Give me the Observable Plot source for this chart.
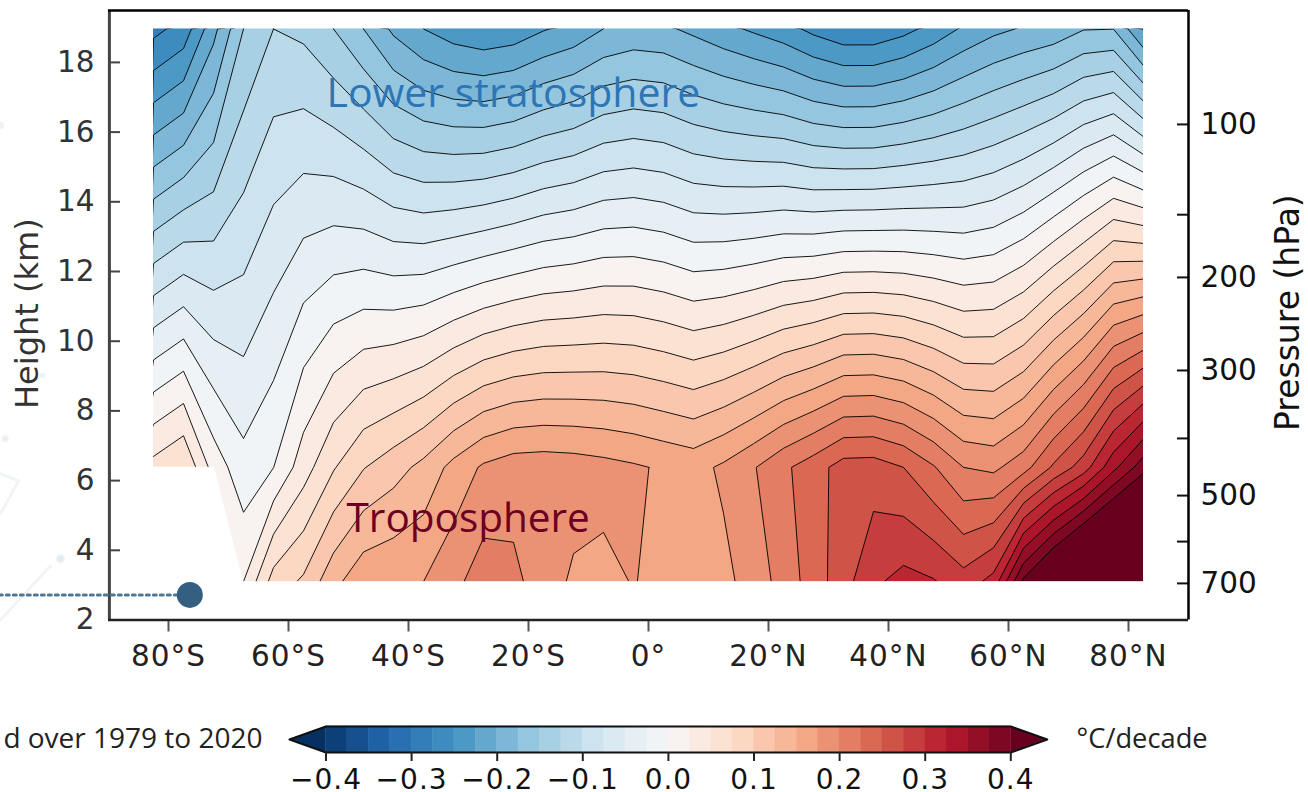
<!DOCTYPE html>
<html>
<head>
<meta charset="utf-8">
<script src="https://cdn.jsdelivr.net/npm/d3@7"></script>
<script src="https://cdn.jsdelivr.net/npm/@observablehq/plot@0.6"></script>
<style>
html,body{margin:0;padding:0;background:#fff;overflow:hidden}
#page{position:relative;width:1308px;height:792px;overflow:hidden}
#page svg{position:absolute;left:0;background:transparent;max-width:none}
#page g[aria-label="x-axis tick label"]{letter-spacing:1px}
</style>
</head>
<body>
<div id="page"></div>
<script>
// Temperature trend (°C/decade) at three heights for every 5° latitude band
const lats = [-82.5,-77.5,-72.5,-67.5,-62.5,-57.5,-52.5,-47.5,-42.5,-37.5,-32.5,-27.5,-22.5,-17.5,-12.5,-7.5,-2.5,2.5,7.5,12.5,17.5,22.5,27.5,32.5,37.5,42.5,47.5,52.5,57.5,62.5,67.5,72.5,77.5,82.5];
const rowHeights = [3.1, 6.38, 18.96];
const trendLow = [null,null,null,.025,.0856,.1042,.1425,.168,.172,.175,.193,.213,.206,.188,.1708,.1684,.1762,.167,.163,.1683,.1856,.21,.237,.265,.2955,.3083,.302,.2853,.309,.406,.462,.516,.5526,.58];
const trendMid = [.0585,.0745,.0149,-.0162,-.0003,.0385,.0728,.0987,.1146,.1323,.158,.1789,.1886,.19,.188,.1837,.1784,.1718,.166,.1795,.198,.22,.2386,.2609,.2621,.25,.2272,.2,.1945,.215,.254,.2876,.343,.39];
const trendTop = [-.2824,-.2652,-.2077,-.15,-.125,-.1308,-.15,-.175,-.205,-.225,-.2385,-.2453,-.2406,-.2269,-.217,-.2,-.1927,-.1951,-.206,-.2179,-.2289,-.24,-.2568,-.2693,-.2693,-.2582,-.2412,-.2212,-.2064,-.1974,-.1906,-.1762,-.1752,-.2267];

const levels = d3.range(0,33).map(i => +(-0.4 + i*0.025).toFixed(3));
const rdBuStops = ["#053061","#2166ac","#4393c3","#92c5de","#d1e5f0","#f7f7f7","#fddbc7","#f4a582","#d6604d","#b2182b","#67001f"];
const rdBu = d3.piecewise(d3.interpolateRgb, rdBuStops);
const levelColors = d3.range(0,34).map(i => rdBu(i/33));

const latTicks = [-80,-60,-40,-20,0,20,40,60,80];
const heightTicks = [2,4,6,8,10,12,14,16,18];
const pressureHeights = [16.22,13.63,11.83,9.16,7.21,5.57,4.25,3.05];
const pressureLabels = ["100","","200","300","","500","","700"];
const barTicks = [-0.4,-0.3,-0.2,-0.1,0,0.1,0.2,0.3,0.4];

// Region with no data
const maskLats = [-82.6,-72.35,-67.5];
const maskTops = [6.38,6.38,3.1];

// Faint decoration and the pointer
const nodeLat = [-98,-98,-107.2,-107.2,-101,-108];
const nodeKm  = [3.76,3.76,7.2,7.2,9.02,16.19];
const nodeR   = [15,7,11,4,6,10];
const nodeFill= ["#f1f4f7","#e4ebf0","#f6f8f9","#e8ecf0","#eef2f5","#eef2f6"];
const strandLat = [-108,-99.7];
const strandKm = [2.0,3.55];
const kiteLat = [-108,-105,-108];
const kiteKm = [6.20,5.99,5.05];
const pointerLat = [-108.2,-76.5];
const pointerKm = [2.72,2.72];

const kmTop = 2 + 609.5/34.85;

// Contour rings of the three rows: straight segments inside every cell of the table
const table = [...trendLow.map((v,i) => v == null ? trendMid[i] : v), ...trendMid, ...trendTop];
const bandFeatures = d3.contours().size([lats.length, rowHeights.length]).thresholds(levels)(table);
const rowToKm = Y => {
  const r = Y - 0.5;
  if (r <= 0) return rowHeights[0] + r*0.2;
  if (r <= 1) return rowHeights[0] + r*(rowHeights[1]-rowHeights[0]);
  if (r <= 2) return rowHeights[1] + (r-1)*(rowHeights[2]-rowHeights[1]);
  return rowHeights[2] + (r-2)*0.2;
};
const outerRings = [], allRings = [];
let ringId = 0;
for (const f of bandFeatures) {
  for (const polygon of f.coordinates) {
    polygon.forEach((ring, k) => {
      ringId++;
      for (const [X,Y] of ring) {
        const p = {lat: lats[0] + (X-0.5)*5, km: rowToKm(Y), level: f.value, ring: ringId};
        allRings.push(p);
        if (k === 0) outerRings.push(p);
      }
    });
  }
}

const colorScale = {type:"threshold", domain:levels, range:levelColors};
const white = "#ffffff";
const strip = (x1,x2,y1,y2) => Plot.rect([0],{x1:[x1],x2:[x2],y1:[y1],y2:[y2],fill:white});
const hemi = d => d === 0 ? "0°" : `${Math.abs(d)}°${d<0?"S":"N"}`;

const main = Plot.plot({
  width:1308, height:792,
  marginLeft:108, marginRight:120, marginTop:10, marginBottom:172.5,
  x:{domain:[-90,90]},
  y:{domain:[2,kmTop]},
  color:colorScale,
  style:{fontFamily:"'DejaVu Sans'",background:"transparent"},
  marks:[
    // faint background
    Plot.line(strandLat.map((x,i)=>({x,y:strandKm[i]})),{x:"x",y:"y",stroke:"#f1f4f7",strokeWidth:3}),
    Plot.line(kiteLat.map((x,i)=>({x,y:kiteKm[i]})),{x:"x",y:"y",stroke:"#f1f4f7",strokeWidth:3}),
    Plot.dot(nodeLat.map((x,i)=>({x,y:nodeKm[i],r:nodeR[i],f:nodeFill[i]})),{x:"x",y:"y",r:"r",fill:"f",stroke:null}),
    // filled bands and contour lines
    Plot.line(outerRings,{x:"lat",y:"km",z:"ring",fill:"level",stroke:"none"}),
    Plot.line(allRings,{x:"lat",y:"km",z:"ring",stroke:"#000",strokeWidth:0.9,fill:"none"}),
    // everything outside the field stays white
    strip(lats[0]-4, lats[0], rowHeights[0]-0.3, rowHeights[2]+0.3),
    strip(lats[33], lats[33]+4, rowHeights[0]-0.3, rowHeights[2]+0.3),
    strip(lats[0]-4, lats[33]+4, rowHeights[2], rowHeights[2]+0.3),
    strip(lats[0]-4, lats[33]+4, rowHeights[0]-0.3, rowHeights[0]),
    Plot.areaY(maskLats.map((x,i)=>({x,y:maskTops[i]})),{x:"x",y1:rowHeights[0]-0.02,y2:"y",fill:white}),
    // annotations
    Plot.text(["Lower stratosphere"],{x:[-53.67],y:[17.11],textAnchor:"start",fontFamily:"'Open Sans'",fontSize:41,fill:"#2e75b6"}),
    Plot.text(["Troposphere"],{x:[-50.33],y:[4.91],textAnchor:"start",fontFamily:"'Open Sans'",fontSize:40.5,fill:"#6b0023"}),
    // axes
    Plot.axisX({ticks:latTicks,tickFormat:hemi,tickSize:12,tickPadding:13,fontSize:29.5,color:"#222",stroke:"#555",strokeWidth:2,label:null}),
    Plot.axisY({anchor:"left",ticks:heightTicks,tickFormat:d=>`${d}`,tickSize:-12,tickPadding:26,fontSize:29.5,color:"#333",stroke:"#444",strokeWidth:2,label:null}),
    Plot.axisY({anchor:"right",ticks:pressureHeights,tickFormat:d=>pressureLabels[pressureHeights.indexOf(d)],tickSize:-12,tickPadding:24,fontSize:29.5,color:"#111",stroke:"#111",strokeWidth:2,label:null}),
    Plot.ruleX([-89.85],{stroke:"#444",strokeWidth:3}),
    Plot.ruleX([90],{stroke:"#000",strokeWidth:2.5}),
    Plot.ruleY([kmTop],{stroke:"#000",strokeWidth:2.5}),
    Plot.ruleY([2],{stroke:"#222",strokeWidth:2.5}),
    Plot.text(["Height (km)"],{x:[-103.5],y:[10.79],rotate:-90,fontSize:32,fill:"#333"}),
    Plot.text(["Pressure (hPa)"],{x:[106.7],y:[10.82],rotate:-90,fontSize:33,fill:"#111"}),
    // pointer
    Plot.line(pointerLat.map((x,i)=>({x,y:pointerKm[i]})),{x:"x",y:"y",stroke:"#4f7897",strokeWidth:3,strokeDasharray:"3,4"}),
    Plot.dot([0],{x:[-76.45],y:[2.72],r:13,fill:"#345f80",stroke:null})
  ]
});
main.style.top = "0px";
document.getElementById("page").appendChild(main);

// Colour bar
const bandLows = levels.slice(0,-1);
const tipPad = 36.5/856;
const bar = Plot.plot({
  width:1308, height:80,
  marginLeft:325.5, marginRight:297.7, marginTop:14, marginBottom:40,
  x:{domain:[-0.4,0.4]},
  y:{domain:[0,1],axis:null},
  color:colorScale,
  style:{fontFamily:"'DejaVu Sans'",background:"transparent"},
  marks:[
    Plot.rect(bandLows,{x1:d=>d,x2:d=>d+0.025,y1:0,y2:1,fill:d=>d,stroke:d=>d,strokeWidth:0.5}),
    Plot.area([{x:-0.4-tipPad,a:0.5,b:0.5},{x:-0.4,a:0,b:1}],{x1:"x",y1:"a",y2:"b",fill:levelColors[0]}),
    Plot.area([{x:0.4,a:0,b:1},{x:0.4+tipPad,a:0.5,b:0.5}],{x1:"x",y1:"a",y2:"b",fill:levelColors[33]}),
    Plot.line([{x:-0.4,y:0},{x:0.4,y:0},{x:0.4+tipPad,y:0.5},{x:0.4,y:1},{x:-0.4,y:1},{x:-0.4-tipPad,y:0.5},{x:-0.4,y:0}],
      {x:"x",y:"y",stroke:"#111",strokeWidth:2}),
    Plot.axisX({ticks:barTicks,tickFormat:d=>d3.format(".1f")(d).replace("-","−"),tickSize:9,tickPadding:8,fontSize:28,color:"#111",stroke:"#222",strokeWidth:2,label:null}),
    Plot.text(["d over 1979 to 2020"],{x:[-0.4-(325.5-262)/856],y:[0.5],textAnchor:"end",fontFamily:"'Open Sans'",fontSize:28,fill:"#222"}),
    Plot.text(["°C/decade"],{x:[0.4+(1076-1010.3)/856],y:[0.5],textAnchor:"start",fontFamily:"'Open Sans'",fontSize:27.3,fill:"#222"})
  ]
});
bar.style.top = "712px";
document.getElementById("page").appendChild(bar);
</script>
</body>
</html>
